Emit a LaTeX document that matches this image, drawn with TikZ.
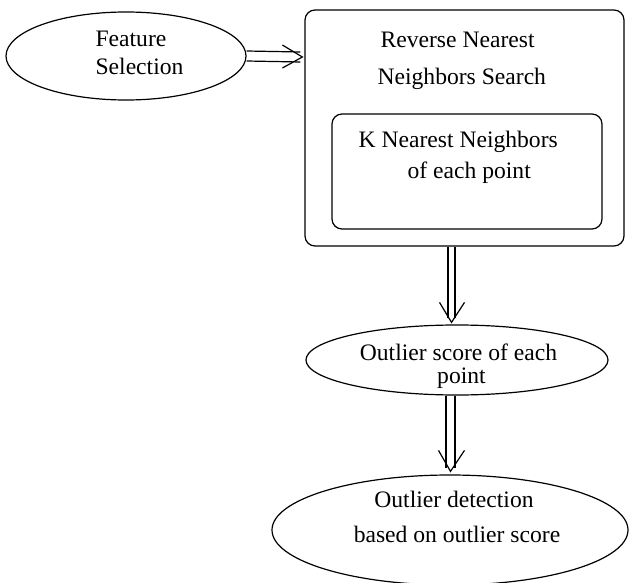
\documentclass[tikz,border=0pt]{standalone}
\usepackage{fontspec}
\setmainfont{Liberation Serif}
\usetikzlibrary{shapes.geometric}
\begin{document}
\begin{tikzpicture}[x=1pt,y=-1pt,
  line width=1.2pt,
  ell/.style={draw,ellipse,inner sep=0pt},
  rbox/.style={draw,rounded corners=10pt},
  lbl/.style={anchor=base west,inner sep=0pt,font=\fontsize{23.6}{28}\selectfont},
  lblc/.style={anchor=base,inner sep=0pt,font=\fontsize{23.6}{28}\selectfont}]
\useasboundingbox (0,0) rectangle (629,583);
\begin{scope}
\clip (0,0) rectangle (629,583);
% shapes
\node[ell,minimum width=240pt,minimum height=88pt] (fs) at (126,56) {};
\draw[rbox] (305,10) rectangle (624,246);
\node[inner sep=0pt,minimum width=319pt,minimum height=236pt] (rnn) at (464.5,128) {};
\draw[rbox] (332,114) rectangle (602,229);
\node[inner sep=0pt,minimum width=270pt,minimum height=115pt] (knn) at (467,171.5) {};
\node[ell,minimum width=302pt,minimum height=70pt] (os) at (457,360) {};
\node[ell,minimum width=356pt,minimum height=110pt] (od) at (450,530) {};
\end{scope}
% labels
\node[lbl] at (95,47) {Feature};
\node[lbl] at (95,75) {Selection};
\node[lbl] at (380,48) {Reverse Nearest};
\node[lbl] at (377,85) {Neighbors Search};
\node[lbl] at (358,147) {K Nearest Neighbors};
\node[lbl] at (407,178) {of each point};
\node[lblc] at (458.5,360) {Outlier score of each};
\node[lblc] at (461.5,383) {point};
\node[lblc] at (454,507) {Outlier detection};
\node[lblc] at (457,542) {based on outlier score};
% arrow 1: fs -> rnn
\coordinate (t1) at (rnn.west |- 0,57);
\draw ([yshift=5pt]fs.east) -- ([xshift=-4pt,yshift=5pt]t1);
\draw ([yshift=-5pt]fs.east) -- ([xshift=-4pt,yshift=-5pt]t1);
\draw ([xshift=-22pt,yshift=12pt]t1) -- ([xshift=-2pt]t1) -- ([xshift=-22pt,yshift=-11pt]t1);
% arrow 2: rnn -> os
\coordinate (s2) at (451.5,0 |- rnn.south);
\coordinate (t2) at (451.5,0 |- os.north);
\draw ([xshift=-3.5pt]s2) -- ([xshift=-3.5pt,yshift=6pt]t2);
\draw ([xshift=3.5pt]s2) -- ([xshift=3.5pt,yshift=6pt]t2);
\draw ([xshift=-12pt,yshift=22pt]t2) -- ([yshift=2pt]t2) -- ([xshift=13pt,yshift=22pt]t2);
% arrow 3: os -> od
\coordinate (s3) at (450.5,0 |- os.south);
\coordinate (t3) at (450.5,0 |- od.north);
\draw ([xshift=-4.5pt]s3) -- ([xshift=-4.5pt,yshift=6pt]t3);
\draw ([xshift=4.5pt]s3) -- ([xshift=4.5pt,yshift=6pt]t3);
\draw ([xshift=-12pt,yshift=24pt]t3) -- ([yshift=3pt]t3) -- ([xshift=14pt,yshift=24pt]t3);
\end{tikzpicture}
\end{document}
